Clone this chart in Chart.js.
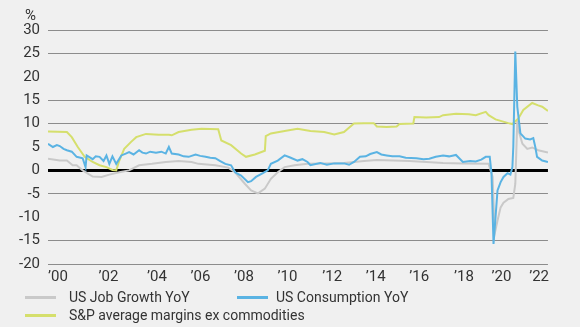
<!DOCTYPE html>
<html>
<head>
<meta charset="utf-8">
<script src="https://cdn.jsdelivr.net/npm/chart.js@4"></script>
<style>
  body { margin: 0; background: #f0f0f0; }
  #wrap { position: relative; width: 580px; height: 327px; background: #f0f0f0;
          font-family: "Roboto", sans-serif; color: #333; }
  #myChart { position: absolute; left: 0; top: 0; }
  .unit { position: absolute; left: 25px; top: 6px; font-size: 15px; }
  .leg { position: absolute; font-size: 14px; line-height: 18px; white-space: nowrap; }
  .leg span { display: inline-block; width: 31px; height: 3px; vertical-align: middle;
              margin-right: 13px; position: relative; top: -1px; }
</style>
</head>
<body>
<div id="wrap">
  <canvas id="myChart" width="553" height="327"></canvas>
  <div class="unit">%</div>
  <div class="leg" style="left:25px; top:288px;"><span style="background:#c9c9c9"></span>US Job Growth YoY</div>
  <div class="leg" style="left:237px; top:288px;"><span style="background:#5ab3e3; margin-right:8px"></span>US Consumption YoY</div>
  <div class="leg" style="left:25px; top:306px;"><span style="background:#d5df6c"></span>S&amp;P average margins ex commodities</div>
</div>
<script>
// ticks del eje x (posicion en el grafico, en años) y sus etiquetas
const xTickAt = [2000.45, 2002.72, 2004.90, 2006.86, 2008.82, 2010.78, 2012.79, 2014.75, 2016.71, 2018.72, 2020.41, 2022.10];
const xLabels = ["’00", "’02", "’04", "’06", "’08", "’10", "’12", "’14", "’16", "’18", "’20", "’22"];

// US Job Growth YoY
const jobX = [2000.00, 2000.53, 2000.85, 2001.11, 2001.29, 2001.56, 2002.01, 2002.41, 2002.76, 2003.21, 2003.65, 2004.10, 2004.68, 2005.30, 2005.88, 2006.46, 2006.77, 2007.53, 2008.11, 2008.42, 2008.87, 2009.14, 2009.45, 2009.76, 2010.03, 2010.34, 2010.65, 2011.10, 2011.68, 2012.43, 2013.32, 2014.22, 2014.80, 2016.27, 2017.78, 2018.67, 2019.83, 2020.01, 2020.10, 2020.23, 2020.37, 2020.50, 2020.72, 2020.94, 2021.03, 2021.12, 2021.17, 2021.35, 2021.57, 2021.79, 2022.06, 2022.50];
const jobY = [2.5, 2.1, 2.1, 1.1, 1.1, 0.0, -1.3, -1.4, -0.9, -0.4, 0.0, 1.1, 1.4, 1.8, 2.0, 1.8, 1.4, 1.1, 0.6, -0.4, -2.9, -4.3, -4.9, -3.9, -1.8, -0.4, 0.7, 1.1, 1.4, 1.5, 1.6, 2.0, 2.2, 2.0, 1.6, 1.5, 1.4, -1.4, -13.6, -10.7, -7.9, -6.9, -6.1, -5.9, -2.9, 10.7, 8.6, 5.7, 4.6, 4.9, 4.3, 3.8];

// US Consumption YoY
const conX = [2000.00, 2000.22, 2000.40, 2000.53, 2000.70, 2000.85, 2001.07, 2001.29, 2001.56, 2001.69, 2001.74, 2002.01, 2002.15, 2002.32, 2002.50, 2002.63, 2002.76, 2002.90, 2003.07, 2003.30, 2003.50, 2003.65, 2003.85, 2004.10, 2004.25, 2004.41, 2004.60, 2004.86, 2005.10, 2005.30, 2005.44, 2005.57, 2005.88, 2006.10, 2006.33, 2006.64, 2006.85, 2007.09, 2007.30, 2007.53, 2007.75, 2007.98, 2008.24, 2008.42, 2008.69, 2009.00, 2009.14, 2009.36, 2009.67, 2009.89, 2010.03, 2010.34, 2010.65, 2010.87, 2011.23, 2011.45, 2011.68, 2011.81, 2012.25, 2012.55, 2012.88, 2013.32, 2013.55, 2013.77, 2014.04, 2014.30, 2014.50, 2014.80, 2015.00, 2015.24, 2015.50, 2015.82, 2016.10, 2016.58, 2016.90, 2017.16, 2017.45, 2017.78, 2018.05, 2018.36, 2018.67, 2019.00, 2019.25, 2019.50, 2019.70, 2019.88, 2019.96, 2020.05, 2020.23, 2020.37, 2020.50, 2020.68, 2020.81, 2020.90, 2020.94, 2021.03, 2021.12, 2021.26, 2021.48, 2021.70, 2021.84, 2021.93, 2022.01, 2022.24, 2022.50];
const conY = [5.7, 5.0, 5.4, 5.2, 4.6, 4.3, 4.0, 2.9, 2.6, 0.7, 3.2, 2.4, 3.0, 2.9, 2.0, 3.2, 1.4, 3.0, 1.4, 3.2, 3.6, 3.9, 3.4, 4.3, 3.8, 3.6, 4.0, 3.8, 4.0, 3.6, 5.0, 3.6, 3.4, 3.0, 2.9, 3.4, 3.1, 2.9, 2.7, 2.6, 2.0, 1.4, 1.1, -0.4, -1.1, -2.5, -2.3, -1.4, -0.6, 0.0, 1.4, 2.1, 3.2, 2.8, 2.1, 2.4, 1.8, 1.1, 1.6, 1.2, 1.5, 1.5, 1.2, 1.8, 2.9, 3.0, 3.5, 3.9, 3.4, 3.2, 3.0, 3.0, 2.7, 2.6, 2.4, 2.5, 2.9, 3.2, 3.0, 3.3, 1.8, 2.0, 1.9, 2.3, 2.9, 2.9, -0.7, -15.7, -4.3, -2.5, -1.4, -0.6, -0.9, 0.7, 5.0, 25.4, 13.6, 7.9, 6.8, 6.6, 6.9, 5.0, 2.9, 2.1, 1.8];

// S&P average margins ex commodities
const marX = [2000.00, 2000.85, 2001.07, 2001.34, 2001.65, 2002.01, 2002.32, 2002.63, 2002.90, 2003.07, 2003.21, 2003.43, 2003.74, 2003.97, 2004.41, 2004.99, 2005.44, 2005.57, 2005.88, 2006.46, 2006.91, 2007.66, 2007.80, 2008.24, 2008.69, 2008.91, 2009.31, 2009.76, 2009.80, 2010.03, 2010.65, 2011.23, 2011.81, 2012.43, 2012.88, 2013.32, 2013.77, 2014.22, 2014.66, 2014.80, 2015.24, 2015.69, 2015.82, 2016.44, 2016.49, 2017.02, 2017.60, 2017.78, 2018.36, 2018.94, 2019.25, 2019.70, 2019.83, 2020.14, 2020.72, 2020.90, 2021.17, 2021.39, 2021.79, 2022.06, 2022.24, 2022.50];
const marY = [8.3, 8.2, 7.1, 5.0, 2.9, 1.8, 1.1, 0.7, 0.1, 0.0, 2.1, 4.6, 6.1, 7.1, 7.8, 7.6, 7.6, 7.5, 8.2, 8.7, 8.9, 8.8, 6.4, 5.4, 3.6, 2.9, 3.4, 4.2, 7.3, 7.9, 8.4, 8.9, 8.4, 8.2, 7.7, 8.2, 10.0, 10.1, 10.1, 9.4, 9.3, 9.4, 9.9, 10.0, 11.4, 11.3, 11.4, 11.8, 12.1, 12.0, 11.8, 12.5, 11.8, 10.9, 10.1, 9.9, 11.1, 12.9, 14.4, 13.9, 13.6, 12.7];

const hiddenGrid = [20, 5, -10];
const puntos = (xs, ys) => xs.map((x, i) => ({ x: x, y: ys[i] }));

const grafica = document.getElementById('myChart').getContext('2d');
const fuente = "Roboto, sans-serif";

const myChart = new Chart(grafica, {
    type: 'line',
    data: {
        datasets: [
            { label: 'US Consumption YoY', data: puntos(conX, conY), borderColor: '#5ab3e3', order: 0 },
            { label: 'S&P average margins ex commodities', data: puntos(marX, marY), borderColor: '#d5df6c', order: 1 },
            { label: 'US Job Growth YoY', data: puntos(jobX, jobY), borderColor: '#c9c9c9', order: 2 }
        ]
    },
    options: {
        responsive: false,
        animation: false,
        layout: { padding: { top: 30, right: 0, bottom: 37, left: 0 } },
        elements: {
            line: { borderWidth: 2, tension: 0, fill: false },
            point: { radius: 0 }
        },
        plugins: { legend: { display: false }, tooltip: { enabled: false } },
        scales: {
            x: {
                type: 'linear',
                min: 2000,
                max: 2022.5,
                afterBuildTicks: (s) => { s.ticks = xTickAt.map(v => ({ value: v })); },
                grid: { display: false, drawTicks: false },
                border: { display: false },
                ticks: {
                    autoSkip: false, maxRotation: 0, padding: 4, color: '#333',
                    font: { family: fuente, size: 15 },
                    callback: (v, i) => xLabels[i]
                }
            },
            y: {
                min: -20,
                max: 30,
                afterFit: (s) => { s.width = 48; },
                grid: {
                    drawTicks: false,
                    color: (ctx) => ctx.tick.value === 0 ? '#000' : (hiddenGrid.includes(ctx.tick.value) ? 'rgba(0,0,0,0)' : '#8c8c8c'),
                    lineWidth: (ctx) => ctx.tick.value === 0 ? 3 : 1
                },
                border: { display: false },
                ticks: {
                    stepSize: 5, padding: 8, color: '#333',
                    font: { family: fuente, size: 15 }
                }
            }
        }
    }
});
</script>
</body>
</html>
